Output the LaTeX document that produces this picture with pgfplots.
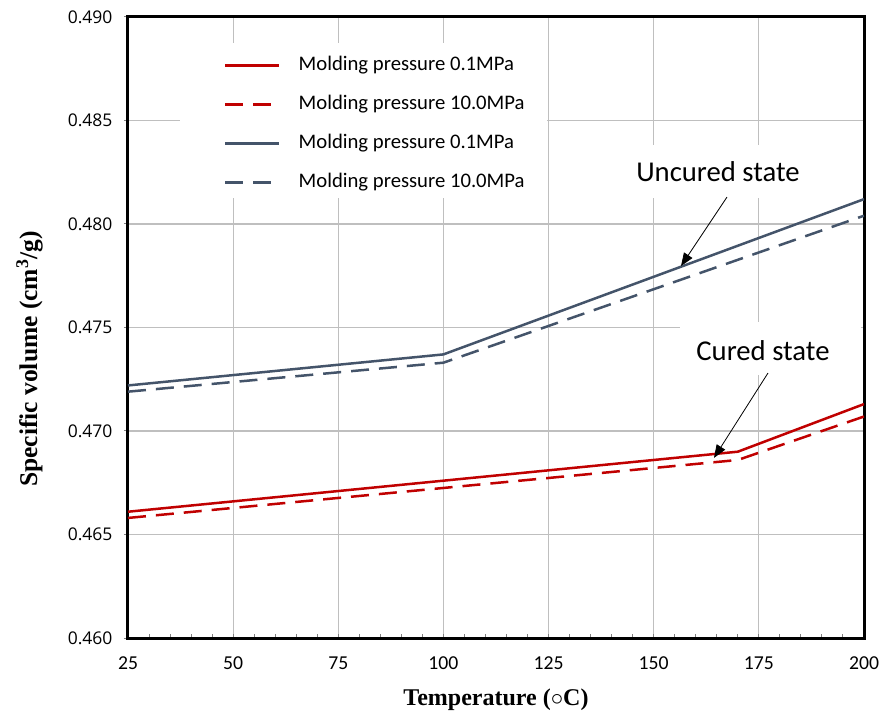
\documentclass[border=0pt]{standalone}
\usepackage{fontspec}
\usepackage{pgfplots}
\pgfplotsset{compat=1.18}
\usetikzlibrary{arrows.meta}
\setmainfont{Carlito}
\newfontfamily\timesfont{Liberation Serif}
\newfontfamily\tickfont{Open Sans}
\definecolor{curedred}{HTML}{C00000}
\definecolor{uncuredgray}{HTML}{44546A}
\definecolor{gridgray}{HTML}{BFBFBF}

\begin{document}
\begin{tikzpicture}
\useasboundingbox (-128pt,-73pt) rectangle (762pt,638pt);
\begin{axis}[
  at={(0pt,0pt)}, anchor=south west,
  scale only axis, width=736pt, height=621pt,
  xmin=25, xmax=200, ymin=0.460, ymax=0.490,
  xtick={25,50,75,100,125,150,175,200},
  ytick={0.460,0.465,0.470,0.475,0.480,0.485,0.490},
  minor x tick num=4,
  grid=major,
  major grid style={draw=gridgray, line width=1.2pt},
  tick align=inside, xtick pos=bottom, ytick pos=left,
  major tick length=4pt, minor tick length=4pt,
  tick style={draw=gray, line width=1pt},
  ytick style={xshift=-4pt},
  axis line style={line width=3pt, black},
  scaled y ticks=false,
  /pgf/number format/assume math mode=true,
  yticklabel style={/pgf/number format/fixed, /pgf/number format/fixed zerofill, /pgf/number format/precision=3,
    font=\tickfont\fontsize{17.5}{18}\selectfont, xshift=-12pt},
  xticklabel style={font=\fontsize{19.7}{20}\selectfont, yshift=-15pt},
  xlabel={\timesfont\bfseries Temperature ($\circ$C)},
  ylabel={\timesfont\bfseries Specific volume (cm\textsuperscript{3}/g)},
  xlabel style={at={(axis description cs:0.5,-0.1)}, anchor=center, font=\fontsize{24}{26}\selectfont},
  ylabel style={at={(axis description cs:-0.1338,0.4493)}, anchor=center, font=\fontsize{25.5}{27}\selectfont},
  legend style={at={(rel axis cs:0.1304,0.9372)}, anchor=north west, draw=none, fill=none,
    inner sep=0pt, row sep=20pt, font=\fontsize{20.7}{22}\selectfont,
    nodes={inner sep=0pt, text height=14pt, text depth=5pt},
    /tikz/every odd column/.append style={column sep=18pt}},
  legend cell align=left,
  legend image code/.code={\draw[#1] (0pt,0pt) -- (54pt,0pt);},
]
% white panels behind the legend and the two annotations
\fill[white] (axis cs:37.36,0.48874) rectangle (axis cs:124.6,0.48126);
\fill[white] (axis cs:142.0,0.48382) rectangle (axis cs:188.3,0.48126);
\fill[white] (axis cs:156.25,0.47527) rectangle (axis cs:199.4,0.47271);

% cured state
\addplot[curedred, line width=2.5pt] coordinates {(25,0.4661) (170,0.4690) (200,0.4713)};
\addlegendentry{Molding pressure 0.1MPa}
\addplot[curedred, line width=2.5pt, dash pattern=on 18pt off 10pt] coordinates {(25,0.4658) (170,0.4686) (200,0.4707)};
\addlegendentry{Molding pressure 10.0MPa}
% uncured state
\addplot[uncuredgray, line width=2.5pt] coordinates {(25,0.4722) (100,0.4737) (200,0.4812)};
\addlegendentry{Molding pressure 0.1MPa}
\addplot[uncuredgray, line width=2.5pt, dash pattern=on 18pt off 10pt] coordinates {(25,0.4719) (100,0.4733) (200,0.4804)};
\addlegendentry{Molding pressure 10.0MPa}

% annotations
\node[font=\fontsize{28.7}{30}\selectfont] at (axis cs:165.28,0.48251) {Uncured state};
\draw[-{Triangle[length=13pt,width=10pt]}, line width=0.8pt] (axis cs:167.42,0.48130) -- (axis cs:156.49,0.47797);
\node[font=\fontsize{28.7}{30}\selectfont] at (axis cs:175.98,0.47387) {Cured state};
\draw[-{Triangle[length=13pt,width=10pt]}, line width=0.8pt] (axis cs:177.17,0.47280) -- (axis cs:164.33,0.46870);
\end{axis}
\end{tikzpicture}
\end{document}
